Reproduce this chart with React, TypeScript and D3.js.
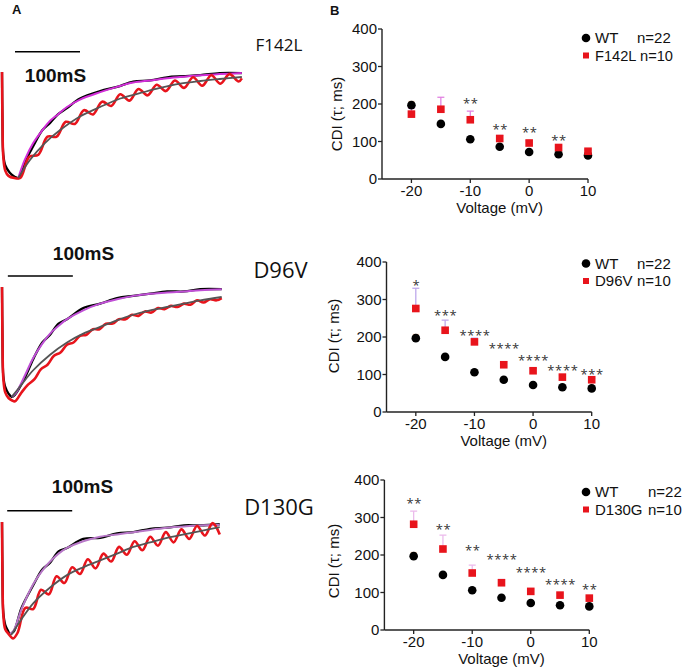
import React from "react";
import * as d3 from "d3";

type Pt = [number, number];

// ---------- Panel B data (CDI tau, ms) ----------
const voltages = [-20, -15, -10, -5, 0, 5, 10];
const xTicks = [-20, -10, 0, 10];
const yTicks = [0, 100, 200, 300, 400];

const wtTau = [197, 147, 106, 86, 72, 66, 63];
const wtSem = [10, 5, 4, 3, 3, 2, 2];

const f142lTau = [173, 186, 158, 108, 96, 84, 74];
const f142lSem = [16, 32, 23, 8, 6, 5, 4];
const f142lStars = ["", "", "**", "**", "**", "**", ""];
const f142lStarLevel = [0, 0, 211, 142, 133, 111, 0];

const d96vTau = [276, 218, 187, 126, 110, 93, 86];
const d96vSem = [54, 27, 10, 8, 6, 5, 4];
const d96vStars = ["*", "***", "****", "****", "****", "****", "***"];
const d96vStarLevel = [346, 268, 213, 178, 148, 121, 110];

const d130gTau = [282, 216, 152, 126, 103, 93, 85];
const d130gSem = [35, 37, 21, 9, 6, 5, 4];
const d130gStars = ["**", "**", "**", "****", "****", "****", "**"];
const d130gStarLevel = [347, 277, 221, 197, 164, 130, 118];

// ---------- Panel A traces: [time ms, % of peak current] ----------
const f142lWtTrace: Pt[] = [[0,0],[0.7,-45],[2,-78],[5,-88],[12,-95],[20,-99],[26,-100],[31,-93],[36,-84],[48,-70],[62,-55],[74,-48],[86,-40],[100,-34],[120,-25],[151,-18],[177,-14],[202,-9],[228,-8],[254,-5],[278,-4],[305,-3],[335,-1],[369,-1]];
const f142lWtFit: Pt[] = [[25,-100],[35,-83],[48,-67],[62,-55],[74,-46],[86,-40],[100,-33],[120,-26],[151,-19],[177,-14],[202,-10],[228,-8],[254,-6],[278,-4.5],[305,-3],[335,-2],[369,-1]];
const f142lMutTrace: Pt[] = [[0,0],[0.7,-45],[2,-80],[5,-93],[10,-98],[19,-100],[28,-100],[42,-80],[56,-78],[70,-61],[84,-61],[98,-47],[112,-49],[126,-36],[140,-40],[154,-28],[168,-32],[182,-21],[196,-27],[210,-16],[224,-22],[238,-12],[252,-18],[266,-8],[280,-15],[294,-5],[308,-13],[322,-3],[336,-11],[350,-2],[364,-9],[369,-6]];
const f142lMutFit: Pt[] = [[25,-100],[43,-83],[66,-67],[89,-55],[120,-42],[151,-33],[182,-25],[212,-20],[243,-15],[274,-11],[305,-8.5],[335,-6.6],[369,-4.7]];

const d96vWtTrace: Pt[] = [[0,0],[0.7,-45],[2,-80],[5,-90],[10,-96],[15,-99],[20,-97],[35,-82],[48,-65],[62,-50],[74,-43],[87,-33],[100,-29],[125,-19],[151,-15],[177,-10],[202,-8],[228,-6],[254,-4],[280,-4],[305,-2],[338,-2]];
const d96vWtFit: Pt[] = [[15,-99],[22,-95],[35,-80],[48,-64],[62,-51],[74,-42],[87,-35],[100,-29],[125,-21],[151,-15],[177,-11],[202,-8],[228,-6],[254,-5],[280,-4],[305,-3],[338,-2]];
const d96vMutTrace: Pt[] = [[0,0],[0.7,-45],[2,-82],[5,-95],[10,-100],[15,-102],[20,-103],[30,-95],[40,-88],[50,-83],[60,-74],[70,-70],[80,-62],[90,-59],[100,-52],[110,-50],[120,-44],[130,-43],[140,-38],[150,-38],[160,-33],[170,-33],[180,-29],[190,-29],[200,-25],[210,-26],[220,-22],[230,-23],[240,-19],[250,-20],[260,-17],[270,-18],[280,-15],[290,-16],[300,-12],[310,-14],[320,-11],[330,-12],[338,-10]];
const d96vMutFit: Pt[] = [[15,-99],[30,-88],[48,-75],[74,-61],[100,-50],[125,-42],[151,-36],[177,-30],[202,-25],[228,-21],[254,-18],[280,-15],[305,-12],[338,-9]];

const d130gWtTrace: Pt[] = [[0,0],[0.7,-45],[2,-80],[5,-91],[9,-96],[12,-99],[18,-97],[30,-76],[48,-56],[62,-42],[74,-36],[87,-26],[100,-23],[125,-15],[151,-14],[177,-10],[202,-9],[228,-6],[254,-5],[280,-3],[305,-3],[335,-2]];
const d130gWtFit: Pt[] = [[12,-99],[18,-96],[30,-77],[48,-55],[62,-43],[74,-35],[87,-28],[100,-23],[125,-17],[151,-13],[177,-11],[202,-9],[228,-7],[254,-5],[280,-4],[305,-3],[335,-2.5]];
const d130gMutTrace: Pt[] = [[0,0],[0.7,-45],[2,-82],[5,-95],[10,-99],[17,-103],[24,-98],[36,-76],[48,-77],[60,-60],[72,-64],[84,-48],[96,-54],[108,-40],[120,-46],[132,-33],[144,-41],[156,-28],[168,-35],[180,-22],[192,-29],[204,-17],[216,-25],[228,-13],[240,-21],[252,-9],[264,-18],[276,-6.5],[288,-15],[300,-3.5],[312,-12],[324,-1],[335,-11]];
const d130gMutFit: Pt[] = [[14,-100],[30,-86],[48,-72],[74,-58],[100,-47],[125,-40],[151,-34],[177,-28],[202,-22],[228,-18],[254,-14],[280,-11],[305,-8],[335,-4.5]];

const LABEL_FONT = "'Open Sans', 'DejaVu Sans', sans-serif";
const FONT = "'Liberation Sans', Arial, sans-serif";
const RED = "#e8141c";

// ---------- layout ----------
const scatterPanels = [
  { name: "F142L", tau: f142lTau, sem: f142lSem, stars: f142lStars, level: f142lStarLevel,
    x0: 382, x1: 588, yb: 179, yt: 29, titleY: 114, titleX: 337, legY: 38, nX: 637, oneLine: true, errColor: "#e07ae0" },
  { name: "D96V", tau: d96vTau, sem: d96vSem, stars: d96vStars, level: d96vStarLevel,
    x0: 386.5, x1: 591.7, yb: 412, yt: 262, titleY: 336, titleX: 334, legY: 263.5, nX: 637, oneLine: false, errColor: "#b9a2ea" },
  { name: "D130G", tau: d130gTau, sem: d130gSem, stars: d130gStars, level: d130gStarLevel,
    x0: 384.4, x1: 589.3, yb: 630, yt: 480, titleY: 561, titleX: 334, legY: 492, nX: 648, oneLine: false, errColor: "#eab6ea" },
];

const tracePanels = [
  { label: "F142L", wt: f142lWtTrace, wtFit: f142lWtFit, mut: f142lMutTrace, mutFit: f142lMutFit,
    yBase: 72, yMin: 178, fitColor: "#d22fd8", barT: 20, barLevel: 19, barTextX: 55.5, barTextY: 82,
    labX: 279, labY: 51, labSize: 17 },
  { label: "D96V", wt: d96vWtTrace, wtFit: d96vWtFit, mut: d96vMutTrace, mutFit: d96vMutFit,
    yBase: 287, yMin: 398, fitColor: "#c050d6", barT: 9, barLevel: 10, barTextX: 83.5, barTextY: 259.5,
    labX: 280.5, labY: 278, labSize: 22 },
  { label: "D130G", wt: d130gWtTrace, wtFit: d130gWtFit, mut: d130gMutTrace, mutFit: d130gMutFit,
    yBase: 522, yMin: 635, fitColor: "#b878c8", barT: 8, barLevel: 10, barTextX: 82.5, barTextY: 493,
    labX: 279, labY: 514.5, labSize: 22 },
];

function ScatterPanel({ p }: { p: any }) {
  const x = d3.scaleLinear().domain([-25, 10]).range([p.x0, p.x1]);
  const y = d3.scaleLinear().domain([0, 400]).range([p.yb, p.yt]);
  const axisColor = "#222";
  const titleMidX = x(-5);
  const row2 = p.legY + 17.5;
  return (
    <g fontFamily={FONT}>
      <line x1={p.x0} x2={p.x0} y1={y(0)} y2={y(400)} stroke={axisColor} strokeWidth={1.4} />
      <line x1={p.x0} x2={x(10)} y1={y(0)} y2={y(0)} stroke={axisColor} strokeWidth={1.4} />
      {yTicks.map((t) => (
        <g key={"y" + t}>
          <line x1={p.x0 - 4} x2={p.x0} y1={y(t)} y2={y(t)} stroke={axisColor} strokeWidth={1.3} />
          <text x={p.x0 - 5} y={y(t) + 5.3} textAnchor="end" fontSize={15} fill="#111">{t}</text>
        </g>
      ))}
      {xTicks.map((t) => (
        <g key={"x" + t}>
          <line x1={x(t)} x2={x(t)} y1={y(0)} y2={y(0) + 4} stroke={axisColor} strokeWidth={1.3} />
          <text x={x(t)} y={y(0) + 16.5} textAnchor="middle" fontSize={15} fill="#111">{t}</text>
        </g>
      ))}
      <text x={titleMidX} y={y(0) + 34} textAnchor="middle" fontSize={15} fill="#111">Voltage (mV)</text>
      <text transform={`translate(${p.titleX + 5},${p.titleY}) rotate(-90)`} textAnchor="middle" fontSize={15} fill="#111">CDI (τ; ms)</text>

      {voltages.map((v, i) => (
        <g key={"e" + v}>
          <line x1={x(v)} x2={x(v)} y1={y(wtTau[i])} y2={y(wtTau[i] + wtSem[i])} stroke="#e9b48a" strokeWidth={1} />
          <line x1={x(v) - 3} x2={x(v) + 3} y1={y(wtTau[i] + wtSem[i])} y2={y(wtTau[i] + wtSem[i])} stroke="#e9b48a" strokeWidth={1} />
          <line x1={x(v)} x2={x(v)} y1={y(p.tau[i])} y2={y(p.tau[i] + p.sem[i])} stroke={p.errColor} strokeWidth={1.2} />
          <line x1={x(v) - 3.5} x2={x(v) + 3.5} y1={y(p.tau[i] + p.sem[i])} y2={y(p.tau[i] + p.sem[i])} stroke={p.errColor} strokeWidth={1.2} />
        </g>
      ))}
      {voltages.map((v, i) => (
        <circle key={"c" + v} cx={x(v)} cy={y(wtTau[i])} r={4.3} fill="#000" />
      ))}
      {voltages.map((v, i) => (
        <rect key={"s" + v} x={x(v) - 3.8} y={y(p.tau[i]) - 3.8} width={7.6} height={7.6} fill={RED} />
      ))}
      {voltages.map((v, i) =>
        p.stars[i] ? (
          <text key={"st" + v} x={x(v) + 0.5} y={y(p.level[i]) + 8} textAnchor="middle" fontFamily={LABEL_FONT} fontSize={13} letterSpacing={0.6} fill="#333">
            {p.stars[i]}
          </text>
        ) : null
      )}
      <g fontSize={15} fill="#111">
        <circle cx={586} cy={p.legY} r={4.3} fill="#000" />
        <text x={595} y={p.legY + 5.4}>WT</text>
        <text x={p.nX} y={p.legY + 5.4}>n=22</text>
        <rect x={583} y={row2 - 3} width={6} height={6} fill={RED} />
        {p.oneLine ? (
          <text x={595} y={row2 + 5.4} textLength={78} lengthAdjust="spacingAndGlyphs">{p.name + " n=10"}</text>
        ) : (
          <>
            <text x={595} y={row2 + 5.4}>{p.name}</text>
            <text x={p.nX} y={row2 + 5.4}>n=10</text>
          </>
        )}
      </g>
    </g>
  );
}

function TracePanel({ p }: { p: any }) {
  const x = d3.scaleLinear().domain([0, 370]).range([2, 242.5]);
  const y = d3.scaleLinear().domain([-100, 0]).range([p.yMin, p.yBase]);
  const line = d3
    .line<Pt>()
    .x((d) => x(d[0]))
    .y((d) => y(d[1]))
    .curve(d3.curveCatmullRom.alpha(0.5));
  return (
    <g>
      <path d={line(p.wt) || ""} fill="none" stroke="#000" strokeWidth={2.3} strokeLinejoin="round" />
      <path d={line(p.wtFit) || ""} fill="none" stroke={p.fitColor} strokeWidth={2} strokeLinejoin="round" />
      <path d={line(p.mut) || ""} fill="none" stroke={RED} strokeWidth={2.6} strokeLinejoin="round" />
      <path d={line(p.mutFit) || ""} fill="none" stroke="#555" strokeWidth={1.8} strokeLinejoin="round" />
      <line x1={x(p.barT)} x2={x(p.barT + 100)} y1={y(p.barLevel)} y2={y(p.barLevel)} stroke="#000" strokeWidth={1.5} />
      <text x={p.barTextX} y={p.barTextY} textAnchor="middle" fontFamily="'Liberation Sans', Arial, sans-serif" fontWeight="bold" fontSize={19} fill="#111">
        100mS
      </text>
      <text x={p.labX} y={p.labY} textAnchor="middle" fontFamily={LABEL_FONT} fontSize={p.labSize} fill="#111">
        {p.label}
      </text>
    </g>
  );
}

export default function App() {
  return (
    <svg width={685} height={670} style={{ position: "absolute", left: 0, top: 0, background: "#fff" }}>
      <rect width={685} height={670} fill="#fff" />
      <text x={12} y={14} fontFamily="'Liberation Sans', Arial, sans-serif" fontWeight="bold" fontSize={13} fill="#111">A</text>
      <text x={330} y={15} fontFamily="'Liberation Sans', Arial, sans-serif" fontWeight="bold" fontSize={13} fill="#111">B</text>
      {tracePanels.map((p) => (
        <TracePanel key={p.label} p={p} />
      ))}
      {scatterPanels.map((p) => (
        <ScatterPanel key={p.name} p={p} />
      ))}
    </svg>
  );
}
